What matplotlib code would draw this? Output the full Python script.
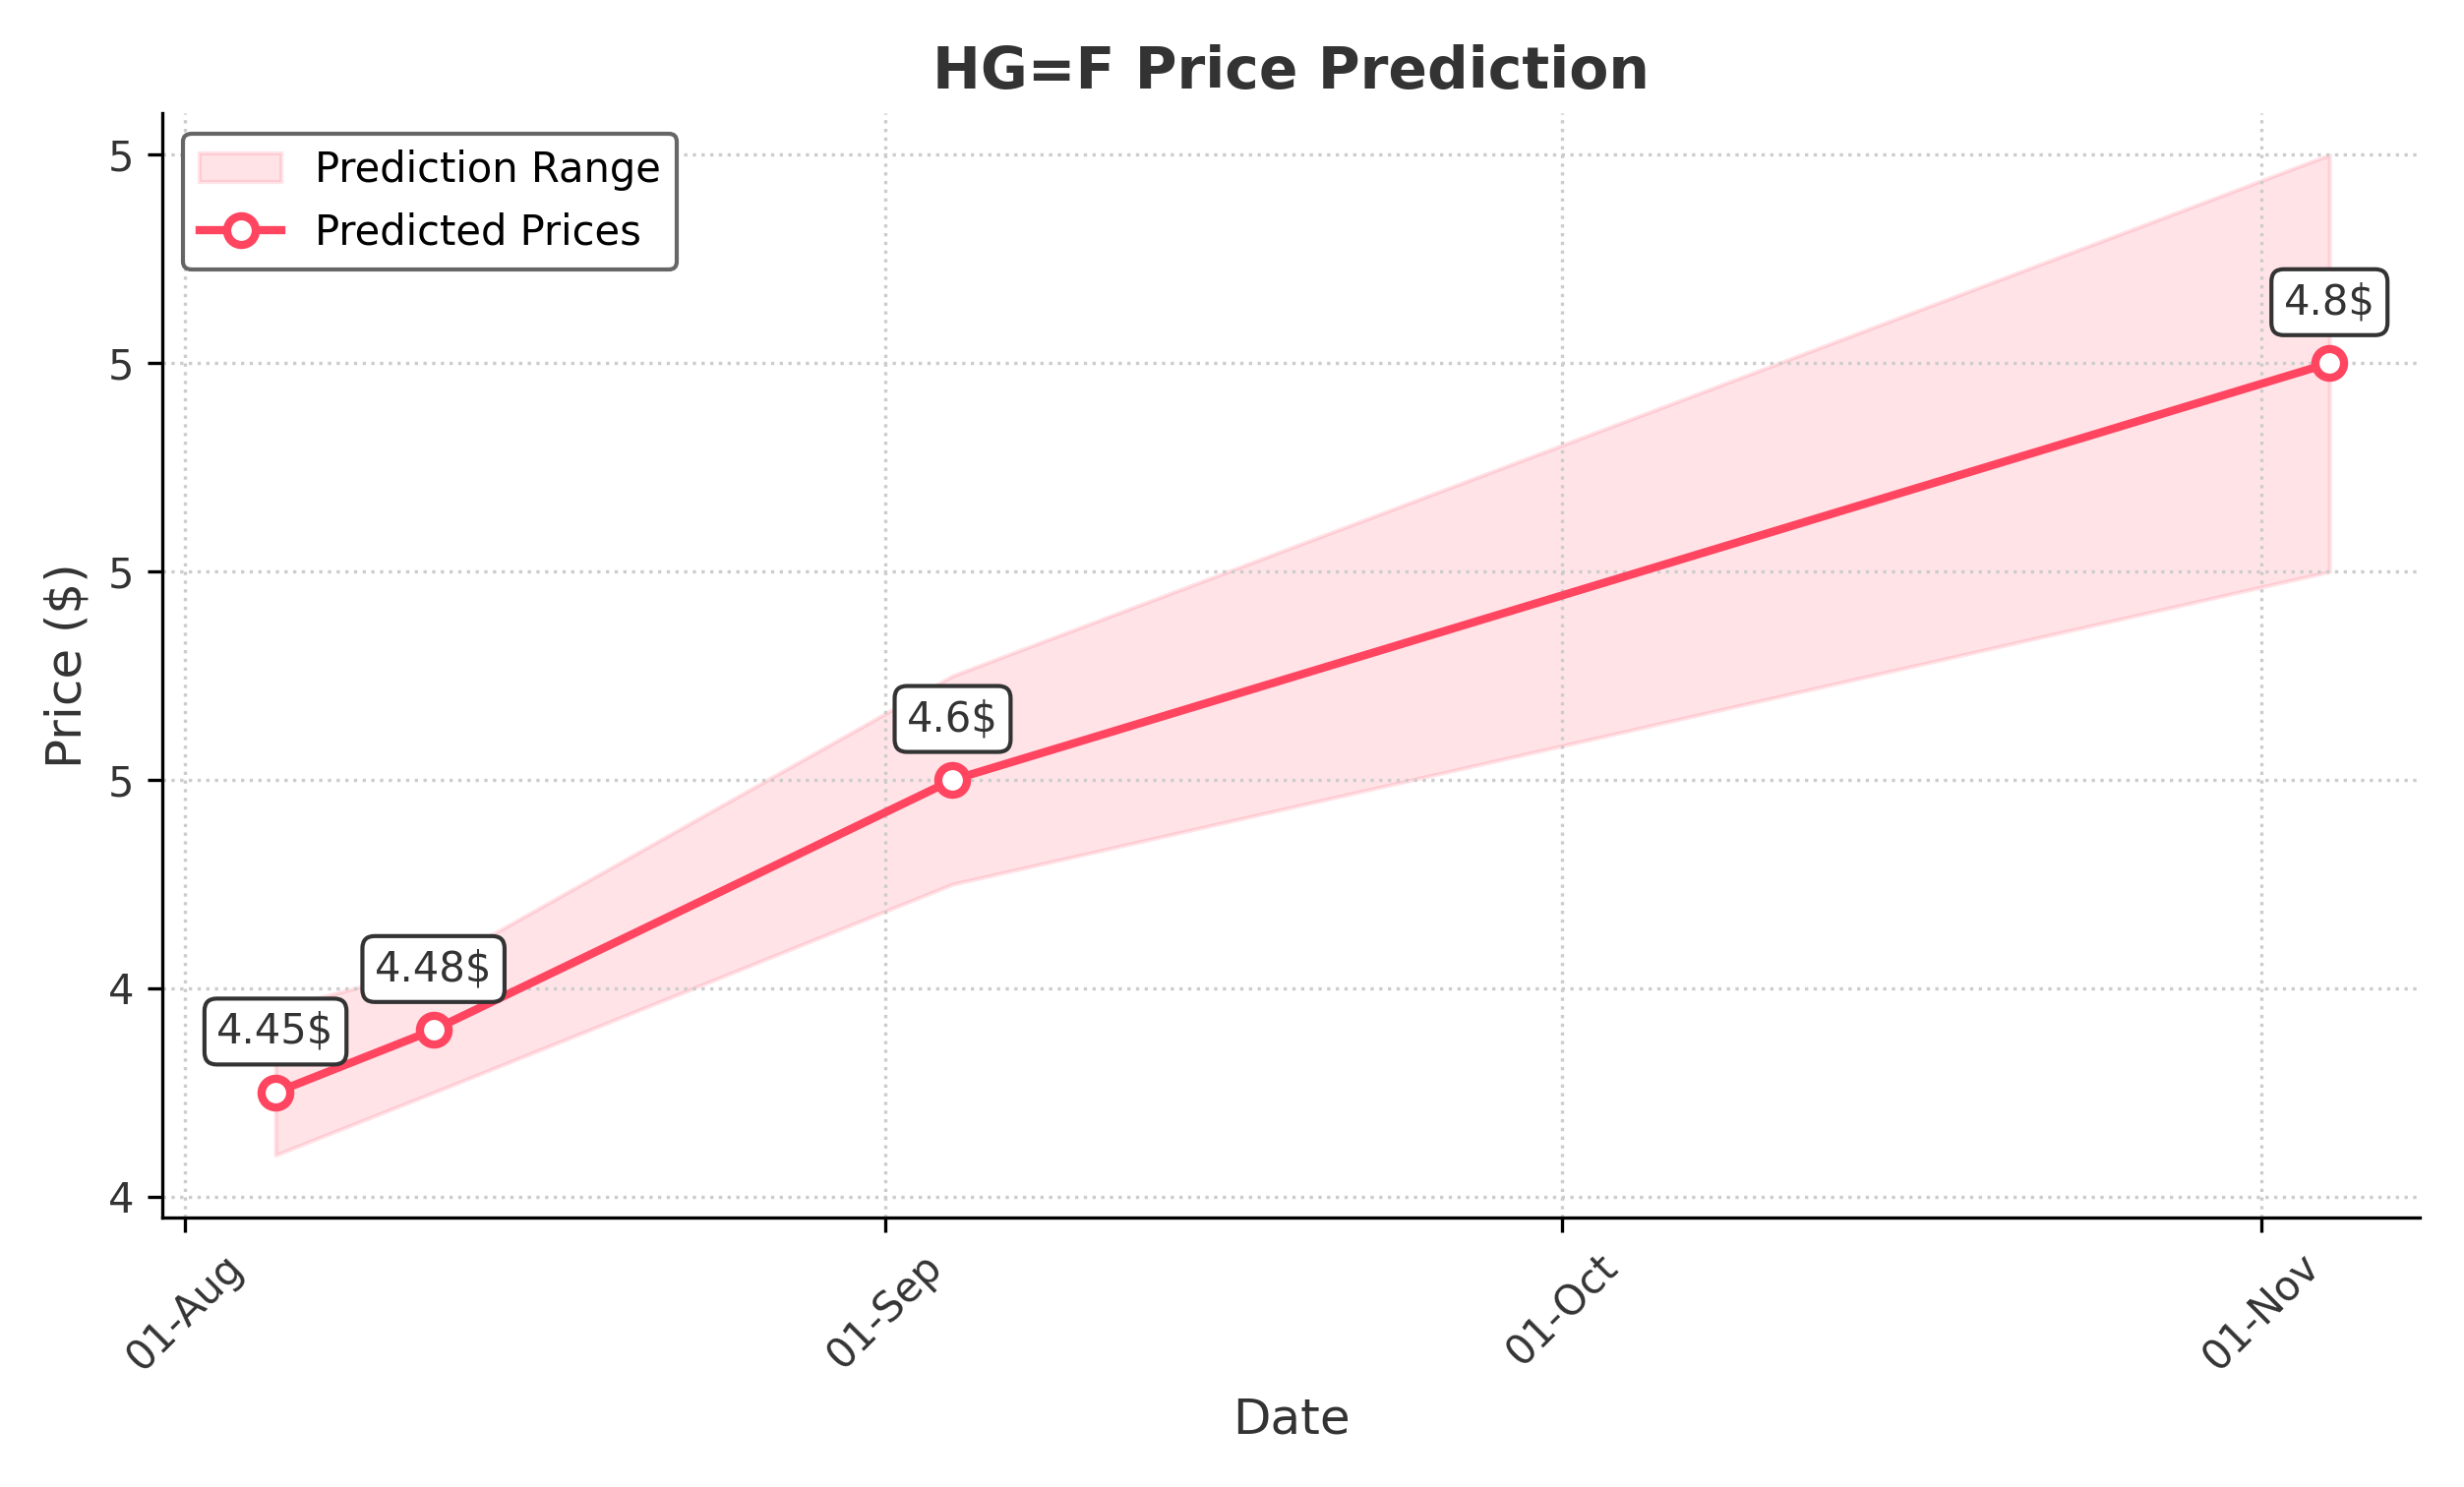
import matplotlib.pyplot as plt
import matplotlib.dates as mdates
from matplotlib.ticker import FormatStrFormatter
import pandas as pd

dates = pd.to_datetime(["2024-08-05", "2024-08-12", "2024-09-04", "2024-11-04"])
predicted = [4.45, 4.48, 4.60, 4.80]
lower = [4.42, 4.45, 4.55, 4.70]
upper = [4.49, 4.51, 4.65, 4.90]
labels = ["4.45$", "4.48$", "4.6$", "4.8$"]

color = "#ff4560"
fig, ax = plt.subplots(figsize=(8.35, 5.04), dpi=300)

ax.fill_between(dates, lower, upper, color=color, alpha=0.15, label="Prediction Range")
ax.plot(dates, predicted, color=color, lw=2, marker="o", ms=7,
        markerfacecolor="white", markeredgewidth=2, label="Predicted Prices")

for d, p, t in zip(dates, predicted, labels):
    ax.annotate(t, (d, p), xytext=(0, 12), textcoords="offset points", ha="center",
                fontsize=10, color="#333333",
                bbox=dict(boxstyle="round,pad=0.3", fc="white", ec="#333333", lw=1))

ax.set_title("HG=F Price Prediction", fontsize=14, fontweight="bold", color="#333333")
ax.set_xlabel("Date", fontsize=12, color="#333333")
ax.set_ylabel("Price ($)", fontsize=12, color="#333333")
ax.set_yticks([4.4, 4.5, 4.6, 4.7, 4.8, 4.9])
ax.yaxis.set_major_formatter(FormatStrFormatter("%.0f"))
ax.set_ylim(4.39, 4.92)
ax.set_xlim(pd.Timestamp("2024-07-31"), pd.Timestamp("2024-11-08"))
ax.xaxis.set_major_locator(mdates.MonthLocator())
ax.xaxis.set_major_formatter(mdates.DateFormatter("%d-%b"))
plt.setp(ax.get_xticklabels(), rotation=45, color="#333333")
plt.setp(ax.get_yticklabels(), color="#333333")
ax.grid(True, linestyle=":", color="#cccccc", lw=0.8)
ax.spines["top"].set_visible(False)
ax.spines["right"].set_visible(False)

leg = ax.legend(loc="upper left", fontsize=10, framealpha=1)
leg.get_frame().set_edgecolor("#666666")

plt.tight_layout()
plt.savefig("out.png")
